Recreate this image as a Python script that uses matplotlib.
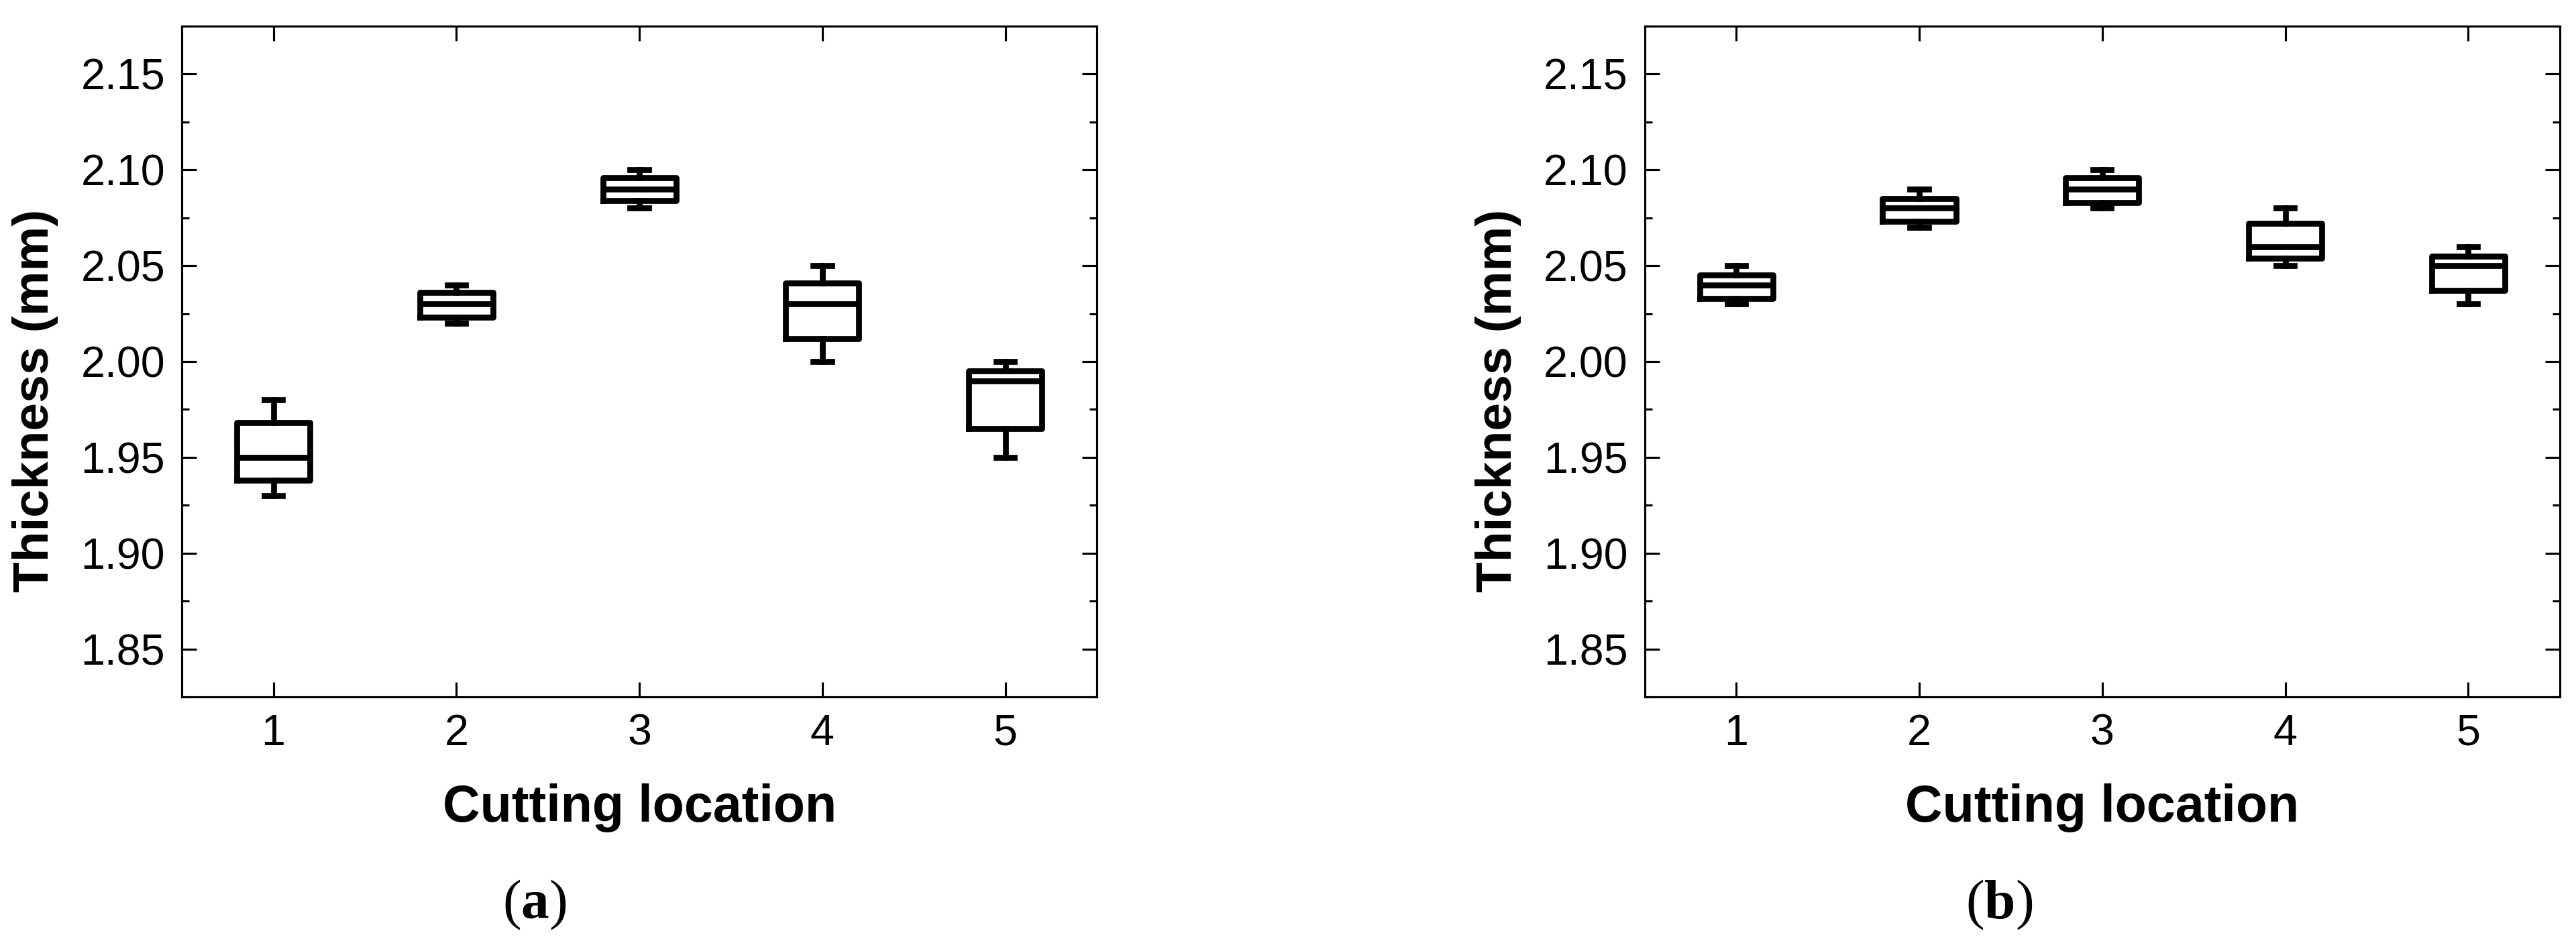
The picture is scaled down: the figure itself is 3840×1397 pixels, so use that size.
import matplotlib

matplotlib.use("Agg")
import matplotlib.pyplot as plt
from matplotlib.ticker import MultipleLocator

# Cutting locations and five-number summaries
locations = [1, 2, 3, 4, 5]

# panel (a)
a_whislo = [1.930, 2.020, 2.080, 2.000, 1.950]
a_q1 = [1.938, 2.023, 2.084, 2.012, 1.965]
a_med = [1.950, 2.030, 2.090, 2.030, 1.990]
a_q3 = [1.968, 2.036, 2.096, 2.041, 1.995]
a_whishi = [1.980, 2.040, 2.100, 2.050, 2.000]

# panel (b)
b_whislo = [2.030, 2.070, 2.080, 2.050, 2.030]
b_q1 = [2.033, 2.073, 2.083, 2.054, 2.037]
b_med = [2.040, 2.080, 2.090, 2.060, 2.050]
b_q3 = [2.045, 2.085, 2.096, 2.072, 2.055]
b_whishi = [2.050, 2.090, 2.100, 2.080, 2.060]

y_ticks = [1.85, 1.90, 1.95, 2.00, 2.05, 2.10, 2.15]

plt.rcParams.update({
    "font.family": ["Liberation Sans", "DejaVu Sans"],
    "mathtext.fontset": "custom",
    "mathtext.rm": "Liberation Serif",
    "mathtext.bf": "Liberation Serif:bold",
    "axes.linewidth": 0.75,
})

LW = 2.1  # box / whisker / median line width in points


def _stats(lo, q1, med, q3, hi):
    return [
        {"whislo": a, "q1": b, "med": c, "q3": d, "whishi": e, "fliers": []}
        for a, b, c, d, e in zip(lo, q1, med, q3, hi)
    ]


def draw_panel(ax, stats):
    line = {"color": "black", "linewidth": LW}
    ax.bxp(
        stats, positions=locations, widths=0.4, capwidths=0.1, showfliers=False,
        boxprops=line, whiskerprops=line, capprops=line, medianprops=line,
    )
    ax.set_xlim(0.5, 5.5)
    ax.set_ylim(1.825, 2.175)
    ax.set_xticks(locations)
    ax.set_xticklabels([str(v) for v in locations])
    ax.set_yticks(y_ticks)
    ax.set_yticklabels([f"{v:.2f}" for v in y_ticks])
    ax.yaxis.set_minor_locator(MultipleLocator(0.025))
    ax.tick_params(which="both", direction="in", top=True, right=True, width=0.75,
                   labelsize=15.5)
    ax.tick_params(which="major", length=5.3, pad=6)
    ax.tick_params(which="minor", length=2.6)
    ax.set_xlabel("Cutting location", fontsize=18.5, fontweight="bold", labelpad=10.5)
    ax.set_ylabel("Thickness (mm)", fontsize=18, fontweight="bold", labelpad=8, y=0.442)


fig = plt.figure(figsize=(12.8, 4.6567), dpi=300)
ax_a = fig.add_axes([0.0706, 0.2563, 0.3552, 0.7158])
ax_b = fig.add_axes([0.6385, 0.2563, 0.3552, 0.7158])

draw_panel(ax_a, _stats(a_whislo, a_q1, a_med, a_q3, a_whishi))
draw_panel(ax_b, _stats(b_whislo, b_q1, b_med, b_q3, b_whishi))

fig.text(0.2076, 0.0195, r"($\mathbf{a}$)", fontsize=20, ha="center", va="baseline",
         family="Liberation Serif")
fig.text(0.776, 0.0195, r"($\mathbf{b}$)", fontsize=20, ha="center", va="baseline",
         family="Liberation Serif")

fig.savefig("out.png", dpi=300, facecolor="white")
